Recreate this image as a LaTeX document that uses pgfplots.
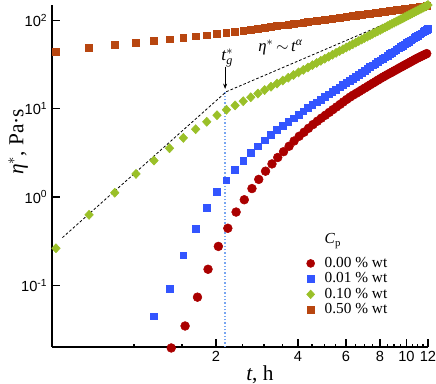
\documentclass[border=0pt]{standalone}
\usepackage{amsmath}
\usepackage{fontspec}
\setmainfont{Liberation Serif}
\setsansfont{Liberation Sans}
\usepackage{pgfplots}
\pgfplotsset{compat=1.18}
\usetikzlibrary{arrows.meta}
\definecolor{cred}{RGB}{170,0,0}
\definecolor{cblue}{RGB}{51,85,255}
\definecolor{cgreen}{RGB}{154,192,40}
\definecolor{corange}{RGB}{184,70,16}
\definecolor{cdot}{RGB}{120,165,240}
\begin{document}
\begin{tikzpicture}
\begin{axis}[
  name=ax, scale only axis, width=282pt, height=256.5pt,
  xmode=log, ymode=log, xmin=0.5, xmax=12, ymin=0.02, ymax=150,
  axis x line*=bottom, axis y line*=left,
  axis line style={line width=1.3pt, black},
  tick align=inside,
  major tick length=6pt, minor tick length=2.5pt,
  every tick/.style={black, line width=0.9pt},
  xtick={2,4,6,8,10,12}, xticklabels={2,4,6,8,10,12},
  minor xtick={1,1.5,2.5,3,3.5,4.5,5,5.5,6.5,7,7.5,8.5,9,9.5,10.5,11,11.5},
  ytick={0.1,1,10,100},
  yticklabels={10\textsuperscript{-1},10\textsuperscript{0},10\textsuperscript{1},10\textsuperscript{2}},
  yminorticks=false,
  tick label style={font=\sffamily\fontsize{11}{12}\selectfont},
  clip=false,
  legend style={draw=none, fill=none, at={(axis description cs:0.657,0.313)}, anchor=north west,
    font=\fontsize{11.5}{12}\selectfont, row sep=0pt, inner sep=0pt,
    nodes={inner sep=1pt, text height=7.6pt, text depth=2pt}},
  legend cell align=left,
]
\addlegendimage{empty legend}\addlegendentry{\hspace{6.5pt}\raisebox{6pt}{\textit{C}\textsubscript{p}}}
\addlegendimage{only marks, mark=*, mark size=3pt, color=cred}\addlegendentry{\hspace{6.5pt}0.00 \% wt}
\addlegendimage{only marks, mark=square*, mark size=2.4pt, color=cblue}\addlegendentry{\hspace{6.5pt}0.01 \% wt}
\addlegendimage{only marks, mark=diamond*, mark size=3.2pt, mark options={xscale=1.25}, color=cgreen}\addlegendentry{\hspace{6.5pt}0.10 \% wt}
\addlegendimage{only marks, mark=square*, mark size=2.4pt, color=corange}\addlegendentry{\hspace{6.5pt}0.50 \% wt}

\addplot[cdot, dash pattern=on 1pt off 1.5pt, line width=1pt, forget plot] coordinates {(2.16,0.02)(2.16,15.3)};

\addplot[only marks, mark=*, mark size=3.3pt, color=cred, forget plot] coordinates {
(1.37,0.0195)(1.54,0.0346)(1.71,0.0734)(1.87,0.152)(2.04,0.276)(2.21,0.443)(2.37,0.676)(2.54,0.932)(2.71,1.248)(2.87,1.585)(3.04,1.964)(3.21,2.374)(3.37,2.808)(3.54,3.267)(3.71,3.767)(3.87,4.317)(4.04,4.886)(4.21,5.43)(4.37,6.011)(4.54,6.633)(4.71,7.234)(4.87,7.83)(5.04,8.45)(5.21,9.11)(5.37,9.78)(5.54,10.49)(5.71,11.22)(5.87,11.98)(6.04,12.77)(6.21,13.57)(6.37,14.27)(6.54,14.97)(6.71,15.69)(6.87,16.43)(7.04,17.19)(7.21,17.96)(7.37,18.75)(7.54,19.55)(7.71,20.37)(7.87,21.21)(8.04,22.06)(8.21,22.92)(8.37,23.71)(8.54,24.53)(8.71,25.34)(8.87,26.17)(9.04,27.02)(9.21,27.86)(9.37,28.73)(9.54,29.60)(9.71,30.49)(9.87,31.39)(10.04,32.28)(10.21,33.20)(10.37,34.12)(10.54,35.06)(10.71,36.02)(10.87,36.98)(11.04,37.84)(11.21,38.69)(11.37,39.57)(11.54,40.44)(11.71,41.30)(11.87,42.20)
};

\addplot[only marks, mark=square*, mark size=2.5pt, color=cblue, forget plot] coordinates {
(1.184,0.0444)(1.350,0.0908)(1.517,0.219)(1.684,0.44)(1.850,0.76)(2.017,1.14)(2.184,1.55)(2.350,2.04)(2.517,2.57)(2.684,3.16)(2.850,3.77)(3.017,4.39)(3.184,5.09)(3.350,5.78)(3.517,6.46)(3.684,7.12)(3.850,7.83)(4.017,8.57)(4.184,9.36)(4.350,10.2)(4.517,11.02)(4.684,11.86)(4.850,12.74)(5.017,13.65)(5.184,14.58)(5.350,15.55)(5.517,16.56)(5.684,17.59)(5.850,18.66)(6.017,19.76)(6.184,20.89)(6.350,22.04)(6.517,23.24)(6.684,24.47)(6.850,25.73)(7.017,27.02)(7.184,28.34)(7.350,29.70)(7.517,31.09)(7.684,32.50)(7.850,33.95)(8.017,35.43)(8.184,36.94)(8.350,38.48)(8.517,40.06)(8.684,41.69)(8.850,43.32)(9.017,45.00)(9.184,46.71)(9.350,48.44)(9.517,50.22)(9.684,52.03)(9.850,53.86)(10.017,55.72)(10.184,57.63)(10.350,59.56)(10.517,61.52)(10.684,63.51)(10.850,65.56)(11.017,67.61)(11.184,69.70)(11.350,71.85)(11.517,74.00)(11.684,76.18)(11.850,78.42)(12.0,80.5)
};

\addplot[only marks, mark=square*, mark size=2.5pt, color=corange, forget plot] coordinates {
(0.517,44.5)(0.684,49.0)(0.850,52.7)(1.017,56.0)(1.184,58.9)(1.350,61.5)(1.517,64.0)(1.684,66.3)(1.850,68.4)(2.017,70.4)(2.184,72.7)(2.350,74.9)(2.517,77.1)(2.684,79.2)(2.850,81.2)(3.017,83.1)(3.184,84.9)(3.350,86.8)(3.517,88.5)(3.684,90.2)(3.850,91.9)(4.017,93.5)(4.184,95.1)(4.350,96.6)(4.517,98.1)(4.684,99.6)(4.850,101.0)(5.017,102.4)(5.184,103.8)(5.350,105.2)(5.517,106.5)(5.684,107.8)(5.850,109.1)(6.017,110.4)(6.184,111.6)(6.350,112.9)(6.517,114.1)(6.684,115.3)(6.850,116.4)(7.017,117.6)(7.184,118.7)(7.350,119.9)(7.517,121.0)(7.684,122.1)(7.850,123.2)(8.017,124.2)(8.184,125.3)(8.350,126.3)(8.517,127.4)(8.684,128.4)(8.850,129.4)(9.017,130.4)(9.184,131.4)(9.350,132.3)(9.517,133.3)(9.684,134.3)(9.850,135.2)(10.017,136.1)(10.184,137.1)(10.350,138.0)(10.517,138.9)(10.684,139.8)(10.850,140.7)(11.017,141.6)(11.184,142.5)(11.350,143.3)(11.517,144.2)(11.684,145.0)(11.850,145.9)
};

\addplot[only marks, mark=diamond*, mark size=3.4pt, mark options={xscale=1.25}, color=cgreen, forget plot] coordinates {
(0.517,0.263)(0.684,0.629)(0.850,1.12)(1.017,1.83)(1.184,2.59)(1.350,3.57)(1.517,4.68)(1.684,5.87)(1.850,7.12)(2.017,8.46)(2.184,9.75)(2.350,10.92)(2.517,12.19)(2.684,13.52)(2.850,14.89)(3.017,16.32)(3.184,17.80)(3.350,19.32)(3.517,20.89)(3.684,22.50)(3.850,24.16)(4.017,25.86)(4.184,27.61)(4.350,29.39)(4.517,31.22)(4.684,33.09)(4.850,34.99)(5.017,36.95)(5.184,38.93)(5.350,40.97)(5.517,43.05)(5.684,45.14)(5.850,47.29)(6.017,49.47)(6.184,51.70)(6.350,53.94)(6.517,56.23)(6.684,58.56)(6.850,60.91)(7.017,63.31)(7.184,65.73)(7.350,68.20)(7.517,70.71)(7.684,73.23)(7.850,75.80)(8.017,78.40)(8.184,81.00)(8.350,83.68)(8.517,86.38)(8.684,89.13)(8.850,91.87)(9.017,94.62)(9.184,97.45)(9.350,100.3)(9.517,103.2)(9.684,106.1)(9.850,109.0)(10.017,112.0)(10.184,115.0)(10.350,118.0)(10.517,121.1)(10.684,124.2)(10.850,127.4)(11.017,130.5)(11.184,133.7)(11.350,136.9)(11.517,140.1)(11.684,143.3)(11.850,146.7)(12.0,150.0)
};

\addplot[black, dash pattern=on 2pt off 1.5pt, line width=0.6pt, forget plot] coordinates {(0.546,0.347)(2.18,15.6)(12,148)};

\draw[-{Stealth[length=4pt,width=3pt]}, line width=0.5pt] (axis cs:2.16,30) -- (axis cs:2.16,16.8);
\node[font=\fontsize{13}{14}\selectfont] at (axis cs:2.2,38) {$\textit{t}_{\textit{g}}^{*}$};
\node[font=\fontsize{12.5}{14}\selectfont] at (axis cs:3.45,50) {$\textit{η}^{*}\,{\sim}\,\textit{t}^{\textit{α}}$};
\node[font=\fontsize{16}{18}\selectfont, anchor=center] at (rel axis cs:0.553,-0.082) {\textit{t}, h};
\node[font=\fontsize{16}{18}\selectfont, anchor=center, rotate=90] at (rel axis cs:-0.09,0.6) {$\textit{η}^{*}$, Pa·s};
\end{axis}
\pgfresetboundingbox
\path ([xshift=-39pt,yshift=-27.75pt]ax.south west) rectangle ([xshift=6pt,yshift=3.75pt]ax.north east);
\end{tikzpicture}
\end{document}
